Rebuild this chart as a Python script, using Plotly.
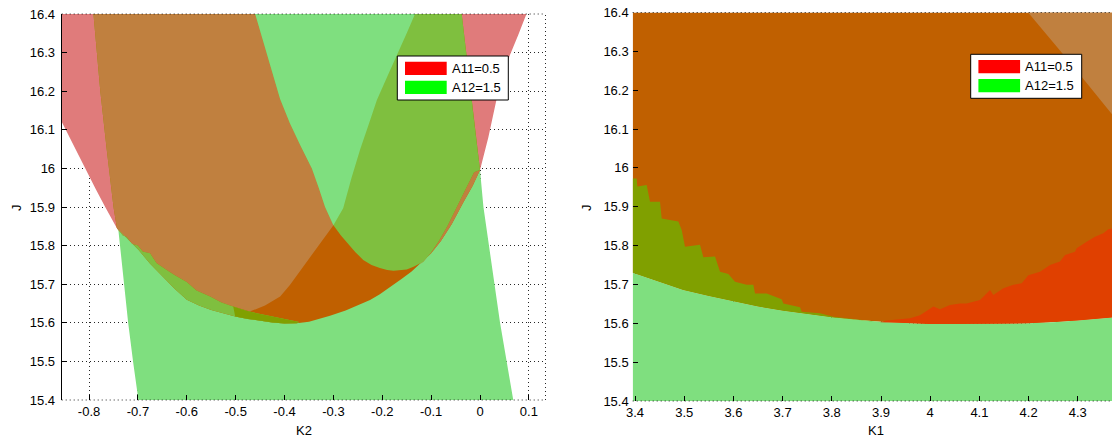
import plotly.graph_objects as go
from plotly.subplots import make_subplots

W, H = 1112, 439

# ---------------- tick values / labels ----------------
k2_ticks = [-0.8, -0.7, -0.6, -0.5, -0.4, -0.3, -0.2, -0.1, 0.0, 0.1]
k2_labels = ["-0.8", "-0.7", "-0.6", "-0.5", "-0.4", "-0.3", "-0.2", "-0.1", "0", "0.1"]
k1_ticks = [3.4, 3.5, 3.6, 3.7, 3.8, 3.9, 4.0, 4.1, 4.2, 4.3]
k1_labels = ["3.4", "3.5", "3.6", "3.7", "3.8", "3.9", "4", "4.1", "4.2", "4.3"]
j_ticks = [15.4, 15.5, 15.6, 15.7, 15.8, 15.9, 16.0, 16.1, 16.2, 16.3, 16.4]
j_labels = ["15.4", "15.5", "15.6", "15.7", "15.8", "15.9", "16", "16.1", "16.2", "16.3", "16.4"]

series_names = ["A11=0.5", "A12=1.5"]
series_colors = ["#ff0000", "#00ff00"]

k2_range = [-0.856, 0.134]
k1_range = [3.3953, 4.3695]
j_range = [15.4, 16.4]

# ---------------- left panel (K2, J) boundaries ----------------
# outer A11 curve
p1_k2 = [-0.856, -0.832, -0.808, -0.787, -0.767, -0.743, -0.720, -0.699, -0.675, -0.65, -0.625,
         -0.600, -0.575, -0.55, -0.525, -0.501, -0.475, -0.45, -0.425, -0.40, -0.375,
         -0.35, -0.307, -0.275, -0.25, -0.225, -0.205, -0.18, -0.16, -0.14, -0.123, -0.10,
         -0.08, -0.058, -0.034, -0.015, 0.0, 0.017, 0.034, 0.047, 0.06, 0.078, 0.095]
p1_j = [16.121, 16.06, 16.0, 15.948, 15.9, 15.845, 15.815, 15.789, 15.753, 15.72, 15.688,
        15.66, 15.645, 15.633, 15.624, 15.616, 15.61, 15.605, 15.601, 15.598, 15.599,
        15.603, 15.618, 15.632, 15.645, 15.659, 15.674, 15.695, 15.714, 15.733, 15.752, 15.78,
        15.812, 15.855, 15.912, 15.955, 15.996, 16.08, 16.18, 16.235, 16.29, 16.345, 16.4]
# A12 band edges
l1_k2 = [-0.791, -0.784, -0.777, -0.764, -0.750, -0.740, -0.730, -0.720, -0.710, -0.699]
l1_j = [16.4, 16.3, 16.2, 16.05, 15.9, 15.84, 15.72, 15.6, 15.5, 15.4]
l2_k2 = [0.068, 0.055, 0.041, 0.024, 0.007, 0.0, -0.009, -0.017, -0.027, -0.0375]
l2_j = [15.4, 15.5, 15.6, 15.75, 15.9, 15.996, 16.09, 16.18, 16.29, 16.4]
# jagged inner edge (lower left)
j1_k2 = [-0.743, -0.731, -0.723, -0.712, -0.700, -0.690, -0.675, -0.662, -0.641, -0.625, -0.600,
         -0.580, -0.552, -0.530, -0.505, -0.480, -0.457, -0.420, -0.389, -0.370]
j1_j = [15.845, 15.826, 15.823, 15.805, 15.800, 15.785, 15.780, 15.755, 15.737, 15.724, 15.706,
        15.684, 15.668, 15.653, 15.642, 15.632, 15.625, 15.615, 15.608, 15.602]
# second curve (right branch)
c2_k2 = [-0.133, -0.150, -0.167, -0.189, -0.211, -0.228, -0.245, -0.263, -0.280, -0.300, -0.315,
         -0.330, -0.360, -0.389, -0.409, -0.440, -0.471, -0.490]
c2_j = [16.4, 16.35, 16.3, 16.24, 16.177, 16.113, 16.05, 15.975, 15.897, 15.853, 15.826,
        15.80, 15.748, 15.698, 15.668, 15.645, 15.629, 15.62]
# upper curve
c1_k2 = [-0.460, -0.448, -0.436, -0.423, -0.409, -0.389, -0.367, -0.344, -0.330, -0.317, -0.300,
         -0.285, -0.270, -0.255, -0.239, -0.222, -0.205, -0.190, -0.177, -0.163, -0.150, -0.136, -0.116]
c1_j = [16.4, 16.35, 16.3, 16.24, 16.18, 16.117, 16.058, 16.0, 15.95, 15.9, 15.853,
        15.827, 15.805, 15.783, 15.763, 15.75, 15.742, 15.737, 15.735, 15.736, 15.738, 15.745, 15.758]
p2r_k2 = [-0.116, -0.100, -0.085, -0.066, -0.048, -0.030, -0.012]
p2r_j = [15.758, 15.782, 15.81, 15.852, 15.9, 15.945, 15.99]

# ---------------- right panel (K1, J) boundaries ----------------
gc_k1 = [3.3953, 3.45, 3.498, 3.55, 3.600, 3.65, 3.701, 3.75, 3.803, 3.85, 3.898, 3.95, 3.999,
         4.061, 4.13, 4.199, 4.25, 4.299, 4.3695]
gc_j = [15.730, 15.707, 15.686, 15.670, 15.656, 15.643, 15.632, 15.623, 15.615, 15.609, 15.604,
        15.601, 15.598, 15.598, 15.599, 15.600, 15.603, 15.607, 15.615]
j2_k1 = [3.3953, 3.4034, 3.4047, 3.4237, 3.4305, 3.4508, 3.4542, 3.4881, 3.4949, 3.5016, 3.5321,
         3.5389, 3.5626, 3.5728, 3.5897, 3.6033, 3.6270, 3.6405, 3.6439, 3.6676, 3.6981, 3.7015,
         3.7354, 3.7388, 3.7760, 3.8031, 3.8573, 3.8980]
j2_j = [15.973, 15.973, 15.952, 15.956, 15.913, 15.913, 15.870, 15.862, 15.840, 15.797, 15.802,
        15.770, 15.772, 15.733, 15.727, 15.707, 15.699, 15.699, 15.677, 15.677, 15.662, 15.651,
        15.641, 15.630, 15.626, 15.617, 15.609, 15.603]
j3_k1 = [3.898, 3.9115, 3.9589, 3.9793, 4.0064, 4.0199, 4.0402, 4.0606, 4.0741, 4.1012, 4.1216,
         4.1283, 4.1487, 4.1690, 4.1860, 4.1995, 4.2232, 4.2435, 4.2638, 4.2740, 4.2943, 4.2977,
         4.3180, 4.3350, 4.3518, 4.3620, 4.3695]
j3_j = [15.603, 15.607, 15.613, 15.621, 15.643, 15.636, 15.647, 15.651, 15.651, 15.660, 15.686,
        15.673, 15.690, 15.699, 15.703, 15.724, 15.733, 15.750, 15.759, 15.776, 15.784, 15.793,
        15.810, 15.823, 15.832, 15.842, 15.844]
wedge_k1 = [4.199, 4.285, 4.3695]
wedge_j = [16.4, 16.27, 16.138]

# ---------------- colours ----------------
C_RED = "#e07b7b"
C_GREEN = "#7fdf7f"
C_ORANGE = "#c06000"
C_BROWN = "#c0803f"
C_OLIVE = "#7fbf3f"
C_DOLIVE = "#80a000"
C_REDOR = "#e04000"


def pts(xs, ys):
    return list(zip(xs, ys))


def poly(fig, points, color, row, col):
    xs = [p[0] for p in points]
    ys = [p[1] for p in points]
    fig.add_trace(go.Scatter(x=xs, y=ys, fill="toself", mode="lines", line=dict(width=0),
                             fillcolor=color, hoverinfo="skip", showlegend=False),
                  row=row, col=col)


fig = make_subplots(rows=1, cols=2)

JT = j_range[1]
JB = j_range[0]

# ---- left panel layers ----
P1 = pts(p1_k2, p1_j)
L1 = pts(l1_k2, l1_j)
L2 = pts(l2_k2, l2_j)
J1 = pts(j1_k2, j1_j)
C2 = pts(c2_k2, c2_j)
C1 = pts(c1_k2, c1_j)
P2R = pts(p2r_k2, p2r_j)

poly(fig, P1 + [(p1_k2[0], JT)], C_RED, 1, 1)
poly(fig, L1 + L2, C_GREEN, 1, 1)
poly(fig, [p for p in L1 if p[1] > 15.85] + [p for p in P1 if -0.744 <= p[0] <= 0.0]
      + [p for p in L2 if p[1] > 16.0], C_ORANGE, 1, 1)
poly(fig, [p for p in L1 if p[1] > 15.85] + [p for p in J1 if p[0] <= -0.505]
      + [p for p in C2[::-1] if p[0] >= -0.472], C_BROWN, 1, 1)
poly(fig, J1 + [p for p in P1[::-1] if -0.744 <= p[0] < -0.37], C_OLIVE, 1, 1)
poly(fig, [p for p in J1 if p[0] >= -0.505] + [p for p in P1[::-1] if -0.51 <= p[0] < -0.37],
     C_DOLIVE, 1, 1)
poly(fig, [p for p in P1 if -0.124 <= p[0] <= 0.0] + P2R[::-1], C_BROWN, 1, 1)
poly(fig, C1 + P2R[1:] + [p for p in L2 if p[1] >= 15.996], C_OLIVE, 1, 1)
poly(fig, [p for p in C1 if p[1] >= 15.853] + [p for p in C2[::-1] if p[1] > 15.853], C_GREEN, 1, 1)

# ---- right panel layers ----
GC = pts(gc_k1, gc_j)
J2 = pts(j2_k1, j2_j)
J3 = pts(j3_k1, j3_j)
WG = pts(wedge_k1, wedge_j)
poly(fig, GC + [(gc_k1[-1], JT), (gc_k1[0], JT)], C_ORANGE, 1, 2)
poly(fig, GC + [(gc_k1[-1], JB), (gc_k1[0], JB)], C_GREEN, 1, 2)
poly(fig, J2 + [p for p in GC[::-1] if p[0] < j2_k1[-1]], C_DOLIVE, 1, 2)
poly(fig, J3 + [(j3_k1[-1], gc_j[-1])] + [p for p in GC[::-1] if j3_k1[0] < p[0] < j3_k1[-1]],
     C_REDOR, 1, 2)
poly(fig, WG + [(wedge_k1[-1], JT)], C_BROWN, 1, 2)

FONT = dict(family="Liberation Sans, Arial, sans-serif", size=13, color="#000000")
GRIDC = "rgba(0,0,0,0.85)"
GRID = dict(showgrid=True, gridcolor=GRIDC, gridwidth=1, griddash="1px,3px",
            ticks="inside", ticklen=5, tickcolor="#000000", tickwidth=1, automargin=False,
            zeroline=False, layer="above traces", tickfont=FONT)

L_X = [61.7 / W, 545.5 / W]
R_X = [632.7 / W, 1.0]
L_Y = [39 / H, 425 / H]
R_Y = [38 / H, 426.5 / H]

fig.update_layout(
    template="none",
    width=W, height=H, margin=dict(l=0, r=0, t=0, b=0, autoexpand=False),
    paper_bgcolor="white", plot_bgcolor="white", showlegend=False,
    xaxis=dict(domain=L_X, range=k2_range, tickvals=k2_ticks, ticktext=k2_labels,
               showline=False, ticklabelstandoff=2, **GRID),
    yaxis=dict(domain=L_Y, range=j_range, tickvals=j_ticks, ticktext=j_labels,
               showline=True, linecolor="#000000", linewidth=1, ticklabelstandoff=3, **GRID),
    xaxis2=dict(domain=R_X, range=k1_range, tickvals=k1_ticks, ticktext=k1_labels,
                showline=False, ticklabelstandoff=2, **GRID),
    yaxis2=dict(domain=R_Y, range=j_range, tickvals=j_ticks, ticktext=j_labels,
                showline=False, anchor="x2", ticklabelstandoff=3, **GRID),
)


def px(x):
    return x / W


def py(y):
    return 1 - y / H


shapes = []
annotations = []
DOT = dict(color=GRIDC, width=1, dash="1px,3px")
shapes.append(dict(type="line", xref="x domain", yref="y domain", x0=1, x1=1, y0=0, y1=1, line=DOT))
shapes.append(dict(type="line", xref="x domain", yref="y domain", x0=0, x1=1, y0=1, y1=1, line=DOT))
shapes.append(dict(type="line", xref="x domain", yref="y domain", x0=0, x1=1, y0=0, y1=0, line=DOT))
shapes.append(dict(type="line", xref="x2 domain", yref="y2 domain", x0=0, x1=1, y0=1, y1=1, line=DOT))
shapes.append(dict(type="line", xref="x2 domain", yref="y2 domain", x0=0, x1=1, y0=0, y1=0, line=DOT))

# legends
for bx, by in [(397.3, 56.0), (970.7, 54.3)]:
    shapes.append(dict(type="rect", xref="paper", yref="paper", x0=px(bx), x1=px(bx + 111),
                       y0=py(by + 44), y1=py(by), line=dict(color="#000000", width=1),
                       fillcolor="white"))
    for i, (name, col) in enumerate(zip(series_names, series_colors)):
        top = by + 5.7 + 19 * i
        shapes.append(dict(type="rect", xref="paper", yref="paper", x0=px(bx + 7.7),
                           x1=px(bx + 49.4), y0=py(top + 13.3), y1=py(top),
                           line=dict(width=0), fillcolor=col))
        annotations.append(dict(text=name, xref="paper", yref="paper", x=px(bx + 52.5),
                                y=py(top + 6.8), xanchor="left", yanchor="middle",
                                showarrow=False, font=FONT))

annotations.append(dict(text="K2", xref="paper", yref="paper", x=px(303.6), y=py(430),
                        xanchor="center", yanchor="middle", showarrow=False, font=FONT))
annotations.append(dict(text="K1", xref="paper", yref="paper", x=px(876), y=py(430),
                        xanchor="center", yanchor="middle", showarrow=False, font=FONT))
annotations.append(dict(text="J", xref="paper", yref="paper", x=px(16), y=py(208),
                        xanchor="center", yanchor="middle", textangle=-90, showarrow=False, font=FONT))
annotations.append(dict(text="J", xref="paper", yref="paper", x=px(586), y=py(208),
                        xanchor="center", yanchor="middle", textangle=-90, showarrow=False, font=FONT))

fig.update_layout(shapes=shapes, annotations=annotations)
fig.write_html("out.html", config={"displayModeBar": False, "staticPlot": True},
               post_script="document.body.style.margin='0px';document.body.style.overflow='hidden';")
